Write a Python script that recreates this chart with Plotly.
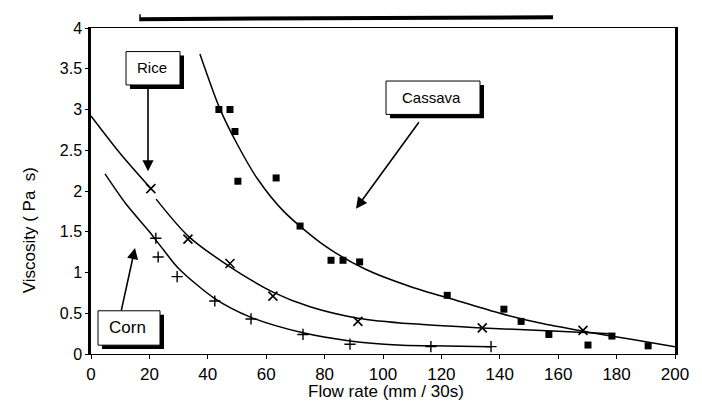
import plotly.graph_objects as go

# ---- data ----
cassava_x = [43.8, 47.6, 49.3, 50.3, 63.4, 71.6, 82.2, 86.3, 92.0, 122.0, 141.4, 147.3, 156.8, 170.2, 178.4, 190.8]
cassava_y = [3.00, 3.00, 2.73, 2.12, 2.16, 1.57, 1.15, 1.15, 1.13, 0.72, 0.55, 0.40, 0.24, 0.11, 0.22, 0.10]
cassava_fit_x = [37.3, 44, 50, 57, 66, 80, 94, 110, 125, 140, 155, 170, 185, 200]
cassava_fit_y = [3.68, 3.02, 2.58, 2.15, 1.75, 1.33, 1.04, 0.82, 0.66, 0.50, 0.37, 0.27, 0.18, 0.09]

rice_x = [20.5, 33.2, 47.6, 62.3, 91.4, 134.0, 168.5]
rice_y = [2.03, 1.41, 1.11, 0.71, 0.40, 0.32, 0.29]
rice_fit_x = [0, 10, 20.5, None, 22.3, 33.2, 47.6, 62.3, 75, 91.4, 110, 134, 160, 178]
rice_fit_y = [2.92, 2.46, 2.03, None, 1.90, 1.45, 1.07, 0.76, 0.58, 0.44, 0.37, 0.32, 0.28, 0.25]

corn_x = [22.2, 23.0, 29.5, 42.4, 54.8, 72.6, 88.7, 116.4, 137.0]
corn_y = [1.42, 1.19, 0.95, 0.65, 0.43, 0.24, 0.12, 0.09, 0.09]
corn_fit_x = [4.8, 12, 20, 25, 30, 42.4, 54.8, 72.6, 88.7, 105, 116.4, 137.0]
corn_fit_y = [2.21, 1.84, 1.50, 1.27, 1.05, 0.68, 0.45, 0.26, 0.16, 0.11, 0.10, 0.09]

x_ticks = [0, 20, 40, 60, 80, 100, 120, 140, 160, 180, 200]
y_ticks = [0, 0.5, 1, 1.5, 2, 2.5, 3, 3.5, 4]
y_ticktext = ["0", "0.5", "1", "1.5", "2", "2.5", "3", "3.5", "4"]

FONT = "Liberation Sans, Arial, sans-serif"
W, H = 702, 402
L, R, T, B = 83, 667, 14, 346


def px(x):
    return (x - L) / (R - L)


def py(y):
    return (B - y) / (B - T)


fig = go.Figure()
line = dict(color="black", width=1.5)
fig.add_trace(go.Scatter(x=cassava_fit_x, y=cassava_fit_y, mode="lines", line=dict(line, shape="spline", smoothing=0.8), hoverinfo="skip"))
fig.add_trace(go.Scatter(x=rice_fit_x, y=rice_fit_y, mode="lines", line=dict(line, shape="spline", smoothing=0.8), connectgaps=False, hoverinfo="skip"))
fig.add_trace(go.Scatter(x=corn_fit_x, y=corn_fit_y, mode="lines", line=dict(line, shape="spline", smoothing=0.8), hoverinfo="skip"))

fig.add_trace(go.Scatter(x=cassava_x, y=cassava_y, mode="markers", name="Cassava",
                         marker=dict(symbol="square", size=7, color="black")))
fig.add_trace(go.Scatter(x=rice_x, y=rice_y, mode="markers", name="Rice",
                         marker=dict(symbol="x-thin-open", size=9, color="black", line=dict(color="black", width=1.6))))
fig.add_trace(go.Scatter(x=corn_x, y=corn_y, mode="markers", name="Corn",
                         marker=dict(symbol="cross-thin-open", size=8, color="black", line=dict(color="black", width=1.4))))

shapes = []
annotations = []


def label_box(x0, y0, x1, y1, text, tx, ty, size=16):
    shapes.append(dict(type="rect", xref="paper", yref="paper", x0=px(x0 + 4), x1=px(x1 + 4),
                       y0=py(y1 + 4), y1=py(y0 + 4), fillcolor="black", line=dict(width=0), layer="above"))
    shapes.append(dict(type="rect", xref="paper", yref="paper", x0=px(x0), x1=px(x1),
                       y0=py(y1), y1=py(y0), fillcolor="white", line=dict(color="black", width=1), layer="above"))
    annotations.append(dict(xref="paper", yref="paper", x=px(tx), y=py(ty), text=text, showarrow=False,
                            font=dict(family=FONT, size=size, color="black"), xanchor="center", yanchor="middle"))


def arrow(tail, head):
    annotations.append(dict(xref="paper", yref="paper", x=px(head[0]), y=py(head[1]), text="",
                            showarrow=True, axref="pixel", ayref="pixel",
                            ax=tail[0] - head[0], ay=tail[1] - head[1],
                            arrowhead=2, arrowsize=1.4, arrowwidth=1.6, arrowcolor="black"))


label_box(118, 38, 172, 72, "Rice", 144, 54, size=15)
arrow((140, 76), (140, 160))
label_box(378, 68, 472, 102, "Cassava", 424, 85, size=15)
arrow((412, 110), (348, 198))
label_box(90, 302, 152, 337, "Corn", 119, 319, size=17)
arrow((113, 302), (127, 238))

# cut-off frame above the plot
shapes.append(dict(type="line", xref="paper", yref="paper", x0=px(132), x1=px(132), y0=py(0), y1=py(7),
                   line=dict(color="black", width=1.5)))
shapes.append(dict(type="line", xref="paper", yref="paper", x0=px(132), x1=px(545), y0=py(5), y1=py(3),
                   line=dict(color="black", width=4)))

annotations.append(dict(xref="paper", yref="paper", x=px(21), y=py(220), text="Viscosity ( Pa  s)",
                        textangle=-90, showarrow=False, font=dict(family=FONT, size=17, color="black"),
                        xanchor="center", yanchor="middle"))
annotations.append(dict(xref="paper", yref="paper", x=px(378), y=py(384), text="Flow rate (mm / 30s)",
                        showarrow=False, font=dict(family=FONT, size=17, color="black"),
                        xanchor="center", yanchor="middle"))

fig.update_layout(
    width=W, height=H,
    margin=dict(l=L, r=W - R, t=T, b=H - B, pad=0),
    paper_bgcolor="white", plot_bgcolor="white",
    showlegend=False,
    font=dict(family=FONT, size=16, color="black"),
    shapes=shapes, annotations=annotations,
    xaxis=dict(range=[0, 200], tickvals=x_ticks, showgrid=False, zeroline=False,
               showline=True, linecolor="black", linewidth=1.2, mirror=True,
               ticks="outside", ticklen=4, tickcolor="black",
               tickfont=dict(family=FONT, size=17, color="black")),
    yaxis=dict(range=[0, 4], tickvals=y_ticks, ticktext=y_ticktext, showgrid=False, zeroline=False,
               showline=True, linecolor="black", linewidth=2.5, mirror=True,
               ticks="outside", ticklen=3, tickcolor="black",
               tickfont=dict(family=FONT, size=16, color="black")),
)

fig.write_html("out.html")
